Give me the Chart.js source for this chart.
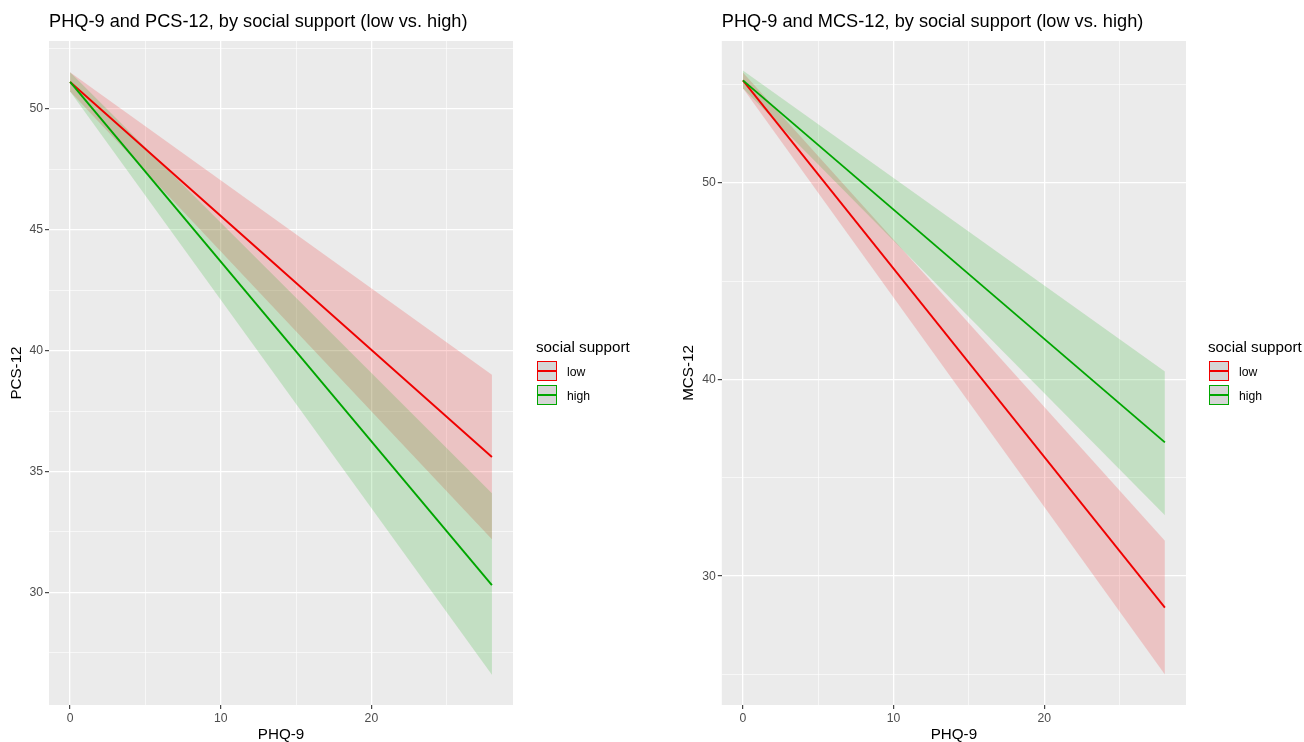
<!DOCTYPE html>
<html>
<head>
<meta charset="utf-8">
<script src="https://cdn.jsdelivr.net/npm/chart.js@4.4.1/dist/chart.umd.min.js"></script>
<style>
  html, body { margin: 0; padding: 0; background: #fff; }
  body { width: 1304px; height: 742px; position: relative; overflow: hidden; font-family: "Liberation Sans", Arial, sans-serif; }
  canvas { position: absolute; top: 0; }
  #leftChart { left: 0; }
  #rightChart { left: 672px; }
  .legend { position: absolute; color: #000; }
  .legend .title { position: absolute; left: 0; top: 0; font-size: 15.2px; line-height: 18px; white-space: nowrap; }
  .legend .key { position: absolute; left: 1px; width: 20px; height: 20px; box-sizing: border-box; background: #d6d6d6; }
  .legend .key span { position: absolute; left: 0; right: 0; top: 8px; height: 2px; }
  .legend .lbl { position: absolute; font-size: 12.2px; line-height: 14px; white-space: nowrap; }
</style>
</head>
<body>
<canvas id="leftChart" width="672" height="742"></canvas>
<canvas id="rightChart" width="632" height="742"></canvas>

<div class="legend" id="leftLegend" style="left:536px; top:338px;"></div>
<div class="legend" id="rightLegend" style="left:1208px; top:338px;"></div>

<script>
// PHQ-9 values at which the fitted lines were drawn
const phqValues = [0, 28];

// PCS-12 (left panel)
const pcsLowFit = [51.1, 35.6];
const pcsLowLower = [50.7, 32.2];
const pcsLowUpper = [51.5, 39.0];
const pcsHighFit = [51.1, 30.3];
const pcsHighLower = [50.7, 26.6];
const pcsHighUpper = [51.5, 34.1];

// MCS-12 (right panel)
const mcsLowFit = [55.2, 28.4];
const mcsLowLower = [54.8, 25.0];
const mcsLowUpper = [55.6, 31.8];
const mcsHighFit = [55.2, 36.8];
const mcsHighLower = [54.8, 33.1];
const mcsHighUpper = [55.7, 40.4];

// axis ticks
const xTicks = [0, 10, 20];
const xMinorTicks = [5, 15, 25];
const pcsTicks = [30, 35, 40, 45, 50];
const pcsMinorTicks = [27.5, 32.5, 37.5, 42.5, 47.5, 52.5];
const mcsTicks = [30, 40, 50];
const mcsMinorTicks = [25, 35, 45, 55];

const groups = ["low", "high"];
const legendTitle = "social support";

const RED = "#f00000";
const GREEN = "#00a600";
const RED_FILL = "rgba(240,0,0,0.17)";
const GREEN_FILL = "rgba(0,166,0,0.17)";
const FONT = "'Liberation Sans', Arial, sans-serif";

const panelBg = {
  id: "panelBg",
  beforeDraw(chart) {
    const { ctx, chartArea: a } = chart;
    ctx.save();
    ctx.fillStyle = "#ebebeb";
    ctx.fillRect(a.left, a.top, a.right - a.left, a.bottom - a.top);
    ctx.restore();
  },
};

function pts(ys) {
  return phqValues.map((x, i) => ({ x, y: ys[i] }));
}

function axis(major, minor, limits, title, isX, width) {
  return {
    type: "linear",
    min: limits[0],
    max: limits[1],
    afterBuildTicks: (scale) => {
      scale.ticks = major.concat(minor).sort((a, b) => a - b).map((v) => ({ value: v }));
    },
    afterFit: (scale) => {
      if (isX) scale.height = 37;
      else scale.width = width;
    },
    border: { display: false },
    grid: {
      color: "#ffffff",
      lineWidth: (c) => (c.tick && major.includes(c.tick.value) ? 1.3 : 0.6),
      tickColor: (c) => (c.tick && major.includes(c.tick.value) ? "#333333" : "rgba(0,0,0,0)"),
      tickLength: 4,
      tickWidth: 1.1,
    },
    ticks: {
      autoSkip: false,
      maxRotation: 0,
      padding: 2,
      color: "#4d4d4d",
      font: { family: FONT, size: 12.2 },
      callback: (v) => (major.includes(v) ? String(v) : ""),
    },
    title: {
      display: true,
      text: title,
      color: "#000",
      font: { family: FONT, size: 15.2, lineHeight: 1 },
      padding: isX ? { top: 0, bottom: 0 } : { top: 9.4, bottom: 0 },
    },
  };
}

function makeChart(id, titleText, yTitle, yTicks, yMinor, yLimits, series, yWidth, padRight) {
  return new Chart(document.getElementById(id), {
    type: "line",
    data: {
      datasets: [
        { data: pts(series.lowLower), borderWidth: 0, pointRadius: 0, fill: false, order: 3 },
        { data: pts(series.lowUpper), borderWidth: 0, pointRadius: 0, fill: "-1", backgroundColor: RED_FILL, order: 3 },
        { data: pts(series.highLower), borderWidth: 0, pointRadius: 0, fill: false, order: 2 },
        { data: pts(series.highUpper), borderWidth: 0, pointRadius: 0, fill: "-1", backgroundColor: GREEN_FILL, order: 2 },
        { label: groups[0], data: pts(series.lowFit), borderColor: RED, borderWidth: 1.9, pointRadius: 0, fill: false, order: 1 },
        { label: groups[1], data: pts(series.highFit), borderColor: GREEN, borderWidth: 1.9, pointRadius: 0, fill: false, order: 0 },
      ],
    },
    options: {
      responsive: false,
      animation: false,
      layout: { padding: { left: 0, right: padRight, top: 0, bottom: 0 } },
      plugins: {
        legend: { display: false },
        tooltip: { enabled: false },
        title: {
          display: true,
          text: titleText,
          align: "start",
          fullSize: false,
          color: "#000",
          font: { family: FONT, size: 18.2, weight: "normal", lineHeight: 1.2 },
          padding: { top: 11, bottom: 8.2 },
        },
      },
      scales: {
        x: axis(xTicks, xMinorTicks, [-1.4, 29.4], "PHQ-9", true),
        y: axis(yTicks, yMinor, yLimits, yTitle, false, yWidth),
      },
    },
    plugins: [panelBg],
  });
}

makeChart("leftChart", "PHQ-9 and PCS-12, by social support (low vs. high)", "PCS-12",
  pcsTicks, pcsMinorTicks, [25.35, 52.79],
  { lowFit: pcsLowFit, lowLower: pcsLowLower, lowUpper: pcsLowUpper,
    highFit: pcsHighFit, highLower: pcsHighLower, highUpper: pcsHighUpper },
  49, 159);

makeChart("rightChart", "PHQ-9 and MCS-12, by social support (low vs. high)", "MCS-12",
  mcsTicks, mcsMinorTicks, [23.45, 57.2],
  { lowFit: mcsLowFit, lowLower: mcsLowLower, lowUpper: mcsLowUpper,
    highFit: mcsHighFit, highLower: mcsHighLower, highUpper: mcsHighUpper },
  49.8, 118);

function buildLegend(id) {
  const box = document.getElementById(id);
  const colors = [RED, GREEN];
  const title = document.createElement("div");
  title.className = "title";
  title.textContent = legendTitle;
  box.appendChild(title);
  groups.forEach((g, i) => {
    const top = 23 + i * 24;
    const key = document.createElement("div");
    key.className = "key";
    key.style.top = top + "px";
    key.style.border = "1.6px solid " + colors[i];
    const line = document.createElement("span");
    line.style.background = colors[i];
    key.appendChild(line);
    box.appendChild(key);
    const lbl = document.createElement("div");
    lbl.className = "lbl";
    lbl.style.left = "31px";
    lbl.style.top = (top + 4) + "px";
    lbl.textContent = g;
    box.appendChild(lbl);
  });
}
buildLegend("leftLegend");
buildLegend("rightLegend");
</script>
</body>
</html>
